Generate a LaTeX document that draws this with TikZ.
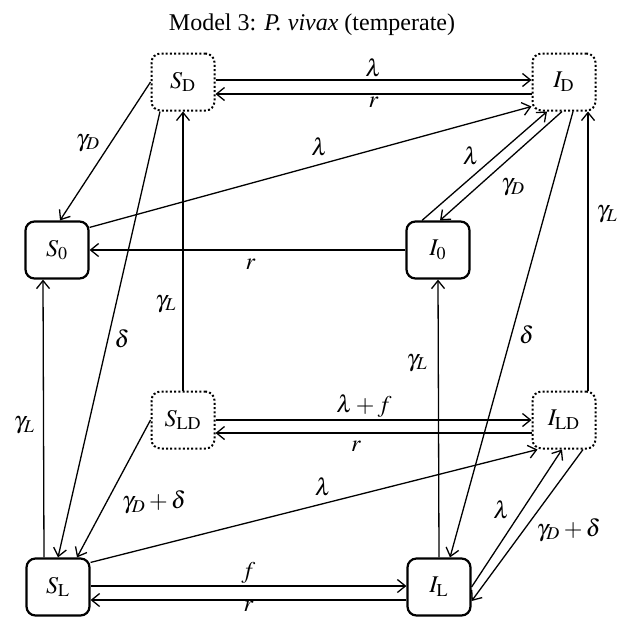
\documentclass[tikz,border=0pt]{standalone}
\usepackage{mathptmx}
\usepackage{fontspec}
\setmainfont{Liberation Serif}
\usetikzlibrary{arrows.meta}
\tikzset{
    compartment/.style={
        draw=black,
        line width=1.1pt,
        rounded corners=4.5pt,
        minimum width=31.5pt,
        minimum height=28.5pt,
        inner sep=0pt,
        font=\fontsize{12}{14}\selectfont
    },
    dormant/.style={
        compartment,
        line width=1pt,
        dash pattern=on 1pt off 1.1pt
    },
    flow/.style={
        -{Straight Barb[length=4pt,width=6.5pt]},
        line width=0.65pt
    },
    every edge/.append style={font=\fontsize{12}{14}\selectfont, inner sep=1pt}
}

\begin{document}
\begin{tikzpicture}[x=0.5pt, y=-0.5pt]
            % Help lines :
            % \draw [help lines, step=50] (0,0) grid (625,617);
            \useasboundingbox (0,0) rectangle (625,617);

            % Title
            \node (title) [font=\fontsize{12}{14}\selectfont] at (312,25)
                {Model 3: \textit{P. vivax} (temperate)};

            % Compartments
            \node (sd) [dormant] at (183,82) {$S_{\mathrm{D}}$};
            \node (id) [dormant] at (564,82) {$I_{\mathrm{D}}$};
            \node (s0) [compartment] at (57,250) {$S_0$};
            \node (i0) [compartment] at (438,250) {$I_0$};
            \node (sld) [dormant] at (183,420) {$S_{\mathrm{LD}}$};
            \node (ild) [dormant] at (564,420) {$I_{\mathrm{LD}}$};
            \node (sl) [compartment] at (58,587) {$S_{\mathrm{L}}$};
            \node (il) [compartment] at (439,587) {$I_{\mathrm{L}}$};

            % Flows
            \path [flow]
                % Out of S_D
                ([yshift=1pt]sd.east) edge node [above] {$\lambda$} ([yshift=1pt]id.west)
                (sd.west) edge node [pos=.44, left=4pt] {$\gamma_D$} ([xshift=1.5pt]s0.north)
                ([xshift=-11.5pt]sd.south) edge node [pos=.51, right=2pt] {$\delta$} (sl.north)

                % Out of I_D
                ([yshift=-6pt]id.west) edge node [below] {$r$} ([yshift=-6pt]sd.east)
                ([xshift=-1pt]id.south) edge node [pos=.7, right=11pt] {$\gamma_D$} ([xshift=1pt]i0.north)
                ([xshift=4.5pt]id.south) edge node [pos=.5, right=2.5pt] {$\delta$} ([xshift=5.5pt]il.north)

                % Out of S_0 and I_0
                ([yshift=-3.5pt]s0.north east) edge node [pos=.52, above=3pt] {$\lambda$} ([yshift=2.5pt]id.south west)
                (i0.west) edge node [pos=.49, below=3pt] {$r$} (s0.east)
                ([xshift=-8pt]i0.north) edge node [pos=.59, left=7pt] {$\lambda$} ([xshift=-8.5pt]id.south)

                % Out of S_LD
                (sld.north) edge node [pos=.31, left=2pt] {$\gamma_L$} (sd.south)
                (sld.east) edge node [pos=.47, above=0pt] {$\lambda+f$} (ild.west)
                (sld.west) edge node [pos=.6, right=6.5pt] {$\gamma_D+\delta$} ([xshift=9.5pt]sl.north)

                % Out of I_LD
                ([xshift=12pt]ild.north) edge node [pos=.63, right=3pt] {$\gamma_L$} ([xshift=12pt]id.south)
                ([yshift=-6.5pt]ild.west) edge node [pos=.555, below=2.5pt] {$r$} ([yshift=-6.5pt]sld.east)
                ([xshift=9.5pt]ild.south) edge node [pos=.53, right=5pt] {$\gamma_D+\delta$} ([yshift=-7pt]il.east)

                % Out of S_L
                ([xshift=-7pt]sl.north) edge node [pos=.475, left=3pt] {$\gamma_L$} ([xshift=-7pt]s0.south)
                ([yshift=-2.5pt]sl.north east) edge node [pos=.52, above=2.5pt] {$\lambda$} ([xshift=3pt]ild.south west)
                ([yshift=0.5pt]sl.east) edge node [above=0pt] {$f$} ([yshift=0.5pt]il.west)

                % Out of I_L
                (il.north) edge node [pos=.7, left=4pt] {$\gamma_L$} (i0.south)
                (il.east) edge node [pos=.56, left=5pt] {$\lambda$} ([xshift=-1pt]ild.south)
                ([yshift=-6.5pt]il.west) edge node [below=-0.5pt, inner sep=0.5pt] {$r$} ([yshift=-6.5pt]sl.east)
            ;
        \end{tikzpicture}
\end{document}
